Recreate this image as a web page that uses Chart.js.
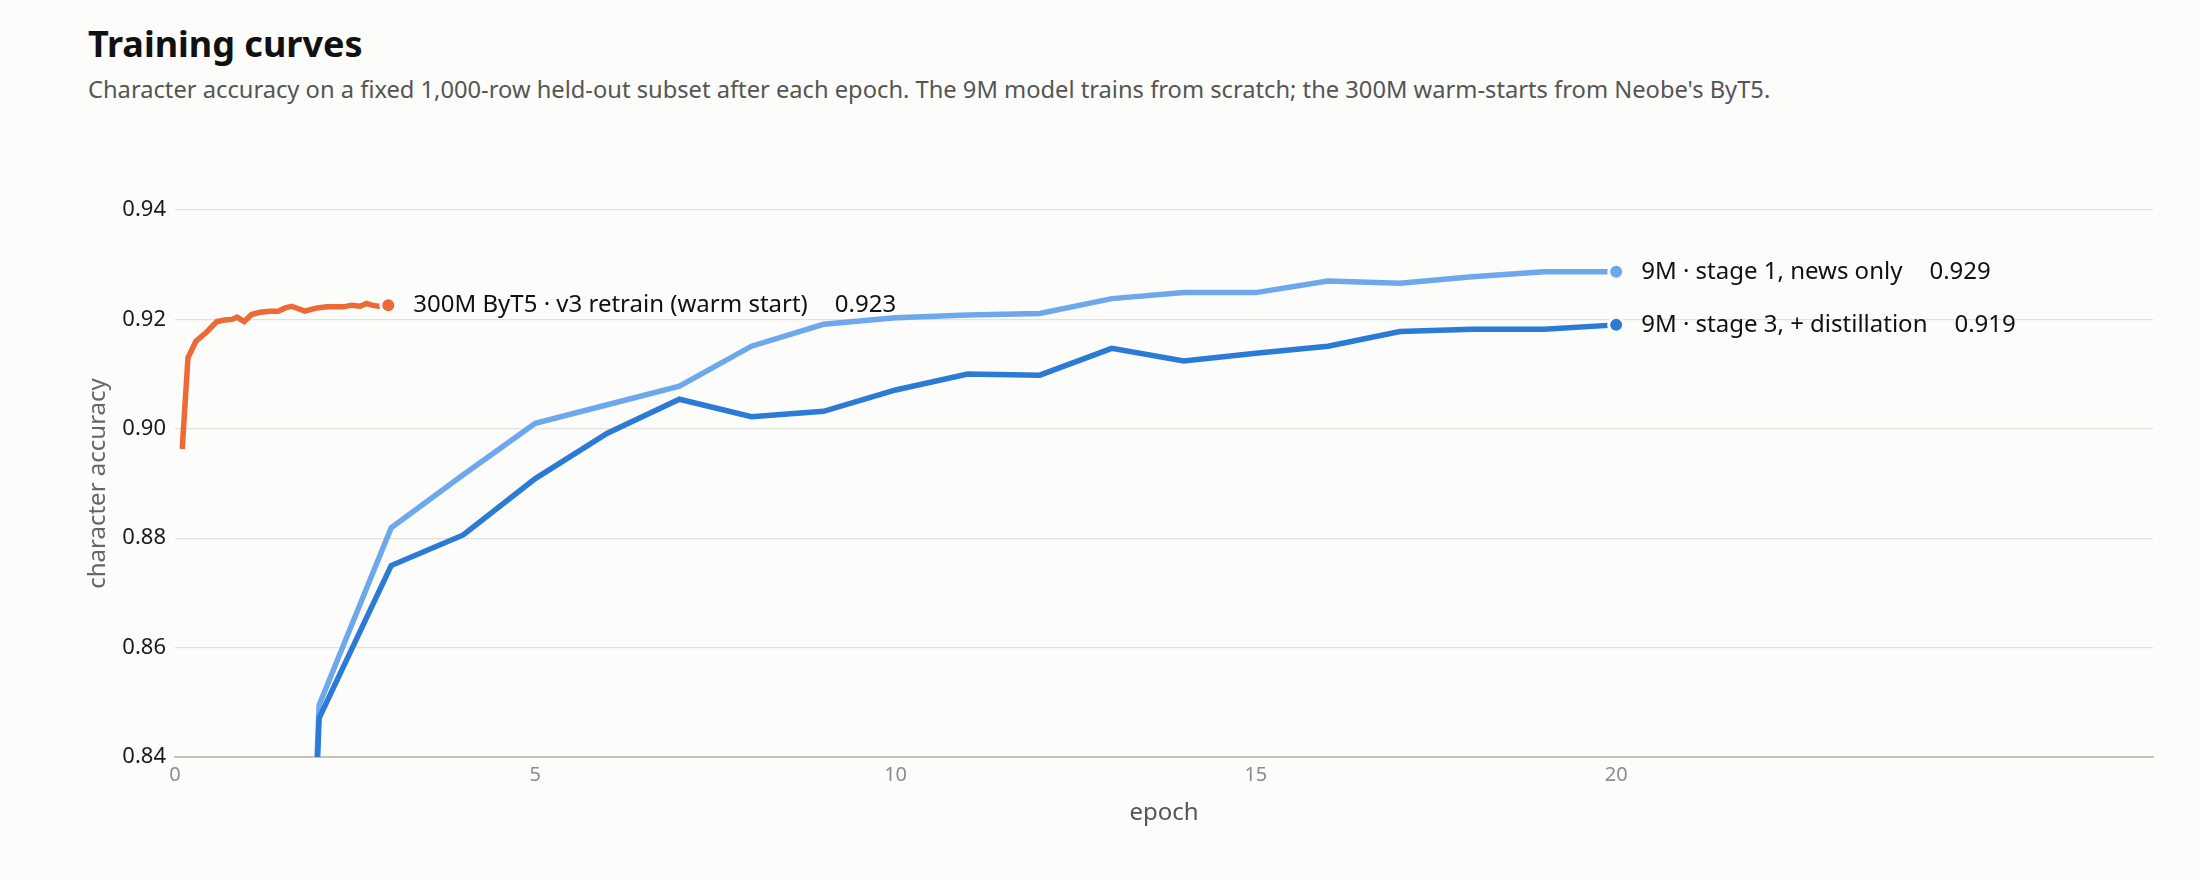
<!DOCTYPE html>
<html>
<head>
<meta charset="utf-8">
<title>Training curves</title>
<script src="https://cdn.jsdelivr.net/npm/chart.js@4"></script>
<style>
  body { margin: 0; background: #fcfcfa; font-family: "Noto Sans", sans-serif; }
  .wrap { position: relative; width: 2200px; height: 880px; }
  h1 { position: absolute; left: 88px; top: 26px; margin: 0; font-size: 36px; line-height: 1; font-weight: 700; color: #111; }
  .sub { position: absolute; left: 88px; top: 78px; margin: 0; font-size: 23.7px; line-height: 1; color: #555; }
  canvas { position: absolute; left: 0; top: 0; }
</style>
</head>
<body>
<div class="wrap">
  <h1>Training curves</h1>
  <p class="sub">Character accuracy on a fixed 1,000-row held-out subset after each epoch. The 9M model trains from scratch; the 300M warm-starts from Neobe's ByT5.</p>
  <canvas id="chart" width="2200" height="880"></canvas>
</div>
<script>
// data
const epochs9M = [1, 2, 3, 4, 5, 6, 7, 8, 9, 10, 11, 12, 13, 14, 15, 16, 17, 18, 19, 20];
const stage1Acc = [0.52, 0.8495, 0.8819, 0.8916, 0.9010, 0.9044, 0.9078, 0.9151, 0.9191, 0.9203,
                   0.9208, 0.9211, 0.9238, 0.9249, 0.9249, 0.9270, 0.9266, 0.9278, 0.9287, 0.9287];
const stage3Acc = [0.50, 0.8471, 0.8750, 0.8806, 0.8909, 0.8992, 0.9054, 0.9022, 0.9032, 0.9071,
                   0.9100, 0.9098, 0.9147, 0.9124, 0.9138, 0.9151, 0.9178, 0.9182, 0.9182, 0.9190];
const byt5Epochs = [0.10, 0.18, 0.29, 0.44, 0.58, 0.69, 0.79, 0.86, 0.96, 1.06, 1.18, 1.32, 1.43,
                    1.53, 1.62, 1.80, 1.97, 2.11, 2.34, 2.45, 2.57, 2.66, 2.73, 2.82, 2.96];
const byt5Acc = [0.8963, 0.9130, 0.9160, 0.9177, 0.9196, 0.9199, 0.9200, 0.9204, 0.9196, 0.9209,
                 0.9213, 0.9215, 0.9215, 0.9221, 0.9224, 0.9215, 0.9221, 0.9223, 0.9223, 0.9226,
                 0.9224, 0.9229, 0.9226, 0.9224, 0.9226];
const seriesNames = ['300M ByT5 · v3 retrain (warm start)', '9M · stage 3, + distillation', '9M · stage 1, news only'];
const yTicks = [0.84, 0.86, 0.88, 0.90, 0.92, 0.94];
const xTicks = [0, 5, 10, 15, 20];

const BG = '#fcfcfa';
const FONT = '"Noto Sans", sans-serif';

function points(xs, ys) {
    return xs.map(function(x, i) { return { x: x, y: ys[i] }; });
}

function lastDot(ctx) {
    return ctx.dataIndex === ctx.dataset.data.length - 1 ? 7.5 : 0;
}

function series(label, data, color, order) {
    return {
        label: label,
        data: data,
        borderColor: color,
        backgroundColor: color,
        borderWidth: 5.5,
        pointRadius: lastDot,
        pointHoverRadius: lastDot,
        pointBackgroundColor: color,
        pointBorderColor: BG,
        pointBorderWidth: 3,
        tension: 0,
        order: order,
        clip: { left: 20, top: 20, right: 20, bottom: 0 }
    };
}

// name + final value next to the last point of every line
const endLabels = {
    id: 'endLabels',
    afterDatasetsDraw: function(chart) {
        const c = chart.ctx;
        c.save();
        c.font = '24px ' + FONT;
        c.fillStyle = '#111';
        c.textBaseline = 'middle';
        chart.data.datasets.forEach(function(ds, i) {
            const meta = chart.getDatasetMeta(i);
            const pt = meta.data[meta.data.length - 1];
            const last = ds.data[ds.data.length - 1].y;
            const x = pt.x + 25;
            c.fillText(ds.label, x, pt.y);
            c.fillText(last.toFixed(3), x + c.measureText(ds.label).width + 27, pt.y);
        });
        c.restore();
    }
};

new Chart(document.getElementById('chart'), {
    type: 'line',
    data: {
        datasets: [
            series(seriesNames[0], points(byt5Epochs, byt5Acc), '#ec6a36', 1),
            series(seriesNames[1], points(epochs9M, stage3Acc), '#2b7ad6', 2),
            series(seriesNames[2], points(epochs9M, stage1Acc), '#6ea8ec', 3)
        ]
    },
    options: {
        responsive: false,
        animation: false,
        devicePixelRatio: 1,
        layout: { padding: { top: 210, right: 47, left: 80, bottom: 0 } },
        plugins: { legend: { display: false }, tooltip: { enabled: false } },
        scales: {
            x: {
                type: 'linear',
                min: 0,
                max: 27.45,
                afterFit: function(s) { s.height = 123; },
                afterBuildTicks: function(s) { s.ticks = xTicks.map(function(v) { return { value: v }; }); },
                grid: { display: false, drawTicks: false },
                border: { display: true, color: '#c3c3b5', width: 2 },
                ticks: { color: '#8c8c8c', padding: 6, font: { family: FONT, size: 20 } },
                title: { display: true, text: 'epoch', color: '#555', font: { family: FONT, size: 24 },
                         padding: { top: 4, bottom: 52 } }
            },
            y: {
                min: 0.84,
                max: 0.94,
                afterFit: function(s) { s.width = 95; },
                afterBuildTicks: function(s) { s.ticks = yTicks.map(function(v) { return { value: v }; }); },
                grid: { color: '#e2e2da', lineWidth: 1.2, drawTicks: false },
                border: { display: false },
                ticks: { color: '#1a1a1a', padding: 9, font: { family: FONT, size: 22 },
                         callback: function(v) { return v.toFixed(2); } },
                title: { display: true, text: 'character accuracy', color: '#666', font: { family: FONT, size: 24 } }
            }
        }
    },
    plugins: [endLabels]
});
</script>
</body>
</html>
